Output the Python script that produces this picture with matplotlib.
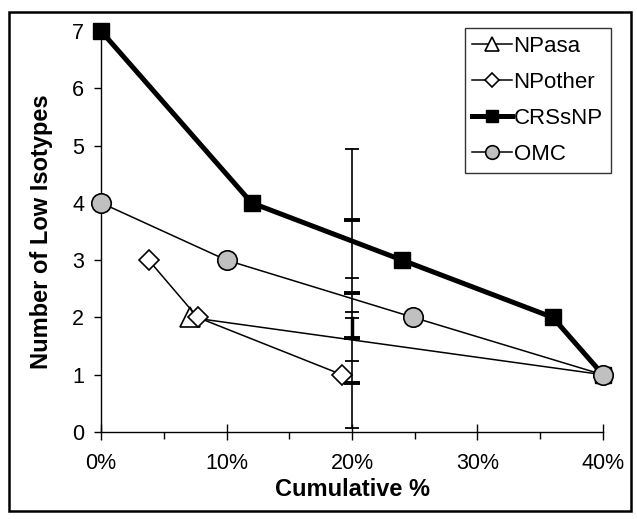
import numpy as np
import matplotlib
matplotlib.use("Agg")
import matplotlib.pyplot as plt
from matplotlib.ticker import PercentFormatter, MultipleLocator
from matplotlib.patches import Rectangle

plt.rcParams['font.family'] = ['Liberation Sans', 'DejaVu Sans']

# series data (x as fraction, y = number of low isotypes)
npasa_x = [0.071, 0.40]
npasa_y = [2, 1]

npother_x = [0.038, 0.077, 0.192]
npother_y = [3, 2, 1]

crs_x = [0.0, 0.12, 0.24, 0.36, 0.40]
crs_y = [7, 4, 3, 2, 1]

omc_x = [0.0, 0.10, 0.249, 0.40]
omc_y = [4, 3, 2, 1]

# vertical error-bar marker at 20%
err_x = 0.20
err_range = [0.07, 4.94]
thin_caps = [4.94, 2.69, 2.10, 1.99, 1.24, 0.07]
thick_caps = [3.70, 2.43, 1.64, 0.85]
thick_span = [1.64, 1.99]

fig = plt.figure(figsize=(6.37, 5.19), dpi=100)
ax = fig.add_axes([0.1586, 0.1676, 0.788, 0.7727])

# error bar at 20%
ax.plot([err_x, err_x], err_range, color='black', lw=1.2, zorder=2)
ax.plot([err_x, err_x], thick_span, color='black', lw=2.5, zorder=2)
ax.plot([err_x] * len(thin_caps), thin_caps, ls='none', marker='_',
        ms=10, mew=1.3, color='black', zorder=2)
ax.plot([err_x] * len(thick_caps), thick_caps, ls='none', marker='_',
        ms=12, mew=2.8, color='black', zorder=2)

ax.plot(npasa_x, npasa_y, color='black', lw=1.1, marker='^', ms=14,
        mfc='white', mec='black', mew=1.2, label='NPasa', markevery=[0],
        clip_on=False, zorder=3)
ax.plot(npother_x, npother_y, color='black', lw=1.1, marker='D', ms=10.5,
        mfc='white', mec='black', mew=1.2, label='NPother', clip_on=False, zorder=3)
ax.plot(crs_x, crs_y, color='black', lw=3.6, marker='s', ms=12,
        mfc='black', mec='black', label='CRSsNP', clip_on=False, zorder=4)
ax.plot(omc_x, omc_y, color='black', lw=1.1, marker='o', ms=14,
        mfc='#c0c0c0', mec='black', mew=1.2, label='OMC', clip_on=False, zorder=5)

ax.set_xlim(0, 0.40)
ax.set_ylim(0, 7)
ax.xaxis.set_major_locator(MultipleLocator(0.10))
ax.xaxis.set_minor_locator(MultipleLocator(0.05))
ax.xaxis.set_major_formatter(PercentFormatter(1.0, decimals=0))
ax.yaxis.set_major_locator(MultipleLocator(1))

for side in ['top', 'right']:
    ax.spines[side].set_visible(False)
for side in ['left', 'bottom']:
    ax.spines[side].set_linewidth(1.0)

ax.tick_params(axis='x', which='major', direction='inout', length=12,
               width=1.0, labelsize=15.5, pad=9)
ax.tick_params(axis='x', which='minor', direction='out', length=5, width=1.0)
ax.tick_params(axis='y', which='major', direction='out', length=5,
               width=1.0, labelsize=15.5, pad=7)

ax.set_xlabel('Cumulative %', fontsize=17, fontweight='bold', labelpad=3)
ax.set_ylabel('Number of Low Isotypes', fontsize=17, fontweight='bold', labelpad=14)

leg = ax.legend(loc='upper right', bbox_to_anchor=(1.015, 1.008), fontsize=16,
                frameon=True, fancybox=False, borderaxespad=0.0,
                handlelength=1.8, handletextpad=0.05, labelspacing=0.68,
                borderpad=0.35, markerscale=0.7)
leg.get_frame().set_edgecolor('black')
leg.get_frame().set_linewidth(1.0)

# outer frame
fig.patches.append(Rectangle((9 / 637, 1 - 511 / 519), 622 / 637, 499 / 519,
                             transform=fig.transFigure, fill=False,
                             edgecolor='black', lw=1.8))

fig.savefig('out.png', dpi=100)
